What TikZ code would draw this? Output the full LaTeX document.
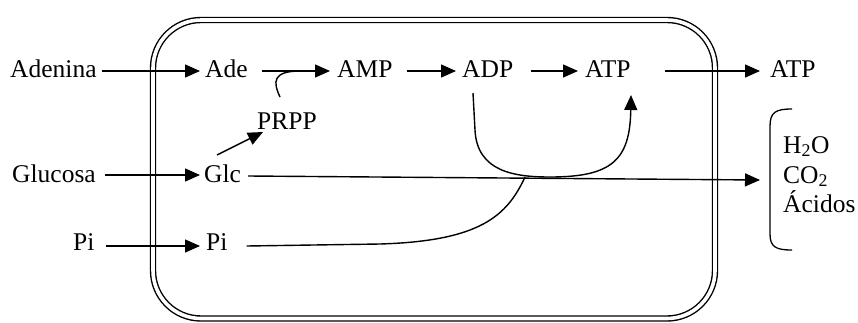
\documentclass[tikz,border=0pt]{standalone}
\usepackage{fontspec}
\setmainfont{Liberation Serif}
\usetikzlibrary{arrows.meta}
\begin{document}
\begin{tikzpicture}[x=1pt,y=-1pt,
  lbl/.style={anchor=base west,inner sep=0pt,font=\fontsize{25.5}{30}\selectfont},
  conn/.style={line width=1.4pt},
  arr/.style={conn,-{Triangle[length=15pt,width=13pt]}},
  cell/.style={line width=1.4pt,double,double distance=3.6pt,rounded corners=48pt}]
\useasboundingbox (0,0) rectangle (858,322);
% cell
\draw[cell] (153,20) rectangle (715,318.5);
% labels
\node[lbl] (adenina) at (10,77) {Adenina};
\node[lbl] (ade) at (205,77) {Ade};
\node[lbl] (amp) at (337,77) {AMP};
\node[lbl] (adp) at (462,77) {ADP};
\node[lbl] (atp) at (585,77) {ATP};
\node[lbl] (atpout) at (770,77) {ATP};
\node[lbl] (prpp) at (257,129) {PRPP};
\node[lbl] (glucosa) at (12,182) {Glucosa};
\node[lbl] (glc) at (204,182) {Glc};
\node[lbl] (piout) at (73,250) {Pi};
\node[lbl] (pi) at (206,250) {Pi};
\node[lbl] (h2o) at (783,153) {H\textsubscript{2}O};
\node[lbl] (co2) at (783,183) {CO\textsubscript{2}};
\node[lbl] (acidos) at (783,212) {Ácidos};
% straight arrows
\draw[arr] ([xshift=5pt,yshift=6pt]adenina.base east) -- ([xshift=-5pt,yshift=6pt]ade.base west);
\draw[arr] ([xshift=14pt,yshift=6pt]ade.base east) -- ([xshift=-7pt,yshift=6pt]amp.base west);
\draw[arr] ([xshift=14pt,yshift=6pt]amp.base east) -- ([xshift=-6pt,yshift=6pt]adp.base west);
\draw[arr] ([xshift=18pt,yshift=6pt]adp.base east) -- ([xshift=-7pt,yshift=6pt]atp.base west);
\draw[arr] ([xshift=34pt,yshift=6pt]atp.base east) -- ([xshift=-10pt,yshift=6pt]atpout.base west);
\draw[arr] ([xshift=9pt,yshift=7pt]glucosa.base east) -- ([xshift=-4pt,yshift=7pt]glc.base west);
\draw[arr] ([xshift=11pt,yshift=4pt]piout.base east) -- ([xshift=-6pt,yshift=4pt]pi.base west);
% PRPP joins Ade -> AMP
\coordinate (pstart) at ([xshift=23pt,yshift=32pt]prpp.base west);
\coordinate (pjoin) at ([xshift=53pt,yshift=6pt]ade.base east);
\draw[conn] (pstart) .. controls (273,82) and (272,71) .. (pjoin);
% Glc -> PRPP
\draw[arr] ([xshift=13pt,yshift=27pt]glc.base west) -- ([xshift=6pt,yshift=-3pt]prpp.base west);
% Glc -> products
\coordinate (gend) at ([xshift=-23pt,yshift=3pt]co2.base west);
\draw[arr] ([xshift=7pt,yshift=6pt]glc.base east) -- (gend);
% Pi curve
\coordinate (pijoin) at (525,177);
\draw[conn] ([xshift=19pt,yshift=4pt]pi.base east) -- (380,244) .. controls (480,241) and (507,216) .. (pijoin);
% ADP -> ATP curve
\draw[arr] ([xshift=11pt,yshift=-16pt]adp.base west) -- (475,130) .. controls (477,172) and (515,177) .. (550,177) .. controls (612,177) and (630,160) .. ([xshift=46pt,yshift=-18pt]atp.base west);
% bracket
\coordinate (bt) at ([xshift=9pt,yshift=44pt]h2o.base west);
\coordinate (bb) at ([xshift=9pt,yshift=-38pt]acidos.base west);
\draw[line width=1.3pt] (bt) .. controls (776,109) and (770,112) .. (770,126) -- (770,234) .. controls (770,247) and (776,250) .. (bb);
\end{tikzpicture}
\end{document}
